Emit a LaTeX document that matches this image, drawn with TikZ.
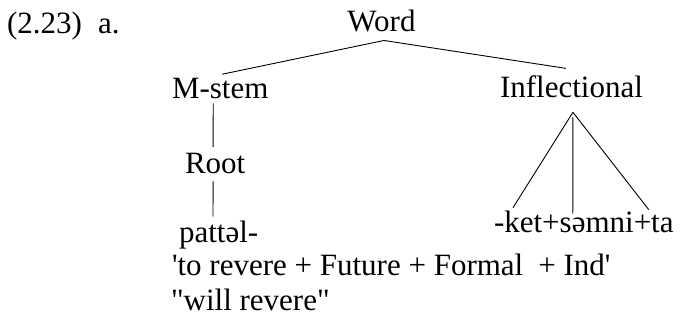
\documentclass[tikz,border=0pt]{standalone}
\usepackage{fontspec}
\newfontfamily\tms{Liberation Serif}
\begin{document}
\begin{tikzpicture}[x=1pt,y=-1pt,
  every node/.style={font=\tms\fontsize{31pt}{37pt}\selectfont, inner sep=0pt, outer sep=0pt},
  branch/.style={line width=0.9pt, black}]
\useasboundingbox (0,0) rectangle (683,322);

% example number
\node[anchor=base west] (num) at (7,33) {(2.23)};
\node[anchor=base west] (sub) at (98,33) {a.};

% tree nodes
\node[anchor=base] (word) at (381.5,31) {Word};
\node[anchor=base west] (mstem) at (172,98) {M-stem};
\node[anchor=base west] (infl) at (500,97) {Inflectional};
\node[anchor=base west] (root) at (185,173) {Root};
\node[anchor=base west] (patt) at (179,242) {patt\char"0259 l-};
\node[anchor=base west] (suff) at (494,232) {-ket+s\char"0259 mni+ta};

% gloss and translation
\node[anchor=base west] (gloss) at (172,275) {\char"0027 to revere + Future + Formal\hspace{15pt}+ Ind\char"0027};
\node[anchor=base west] (trans) at (171,310) {\char"0022 will revere\char"0022};

% branches
\draw[branch] ([xshift=2.5pt,yshift=-9pt]word.south) -- ([xshift=2pt,yshift=3.5pt]mstem.north);
\draw[branch] ([xshift=2.5pt,yshift=-9pt]word.south) -- ([xshift=-5.5pt,yshift=6.8pt]infl.north);
\draw[branch] ([xshift=-7pt,yshift=-5pt]mstem.south) -- ([xshift=-2pt,yshift=5.5pt]root.north);
\draw[branch] ([xshift=-2pt,yshift=-8pt]root.south) -- ([xshift=-5.6pt,yshift=3.8pt]patt.north);

% fan over the inflectional string
\draw[branch] ([xshift=1.5pt,yshift=-15pt]infl.south) -- ([xshift=19pt,yshift=2.8pt]suff.north west);
\draw[branch] ([xshift=1.5pt,yshift=-20pt]infl.south) -- ([xshift=-11pt,yshift=-3.2pt]suff.north);
\draw[branch] ([xshift=1.5pt,yshift=-15pt]infl.south) -- ([xshift=65pt,yshift=0.8pt]suff.north);
\end{tikzpicture}
\end{document}
